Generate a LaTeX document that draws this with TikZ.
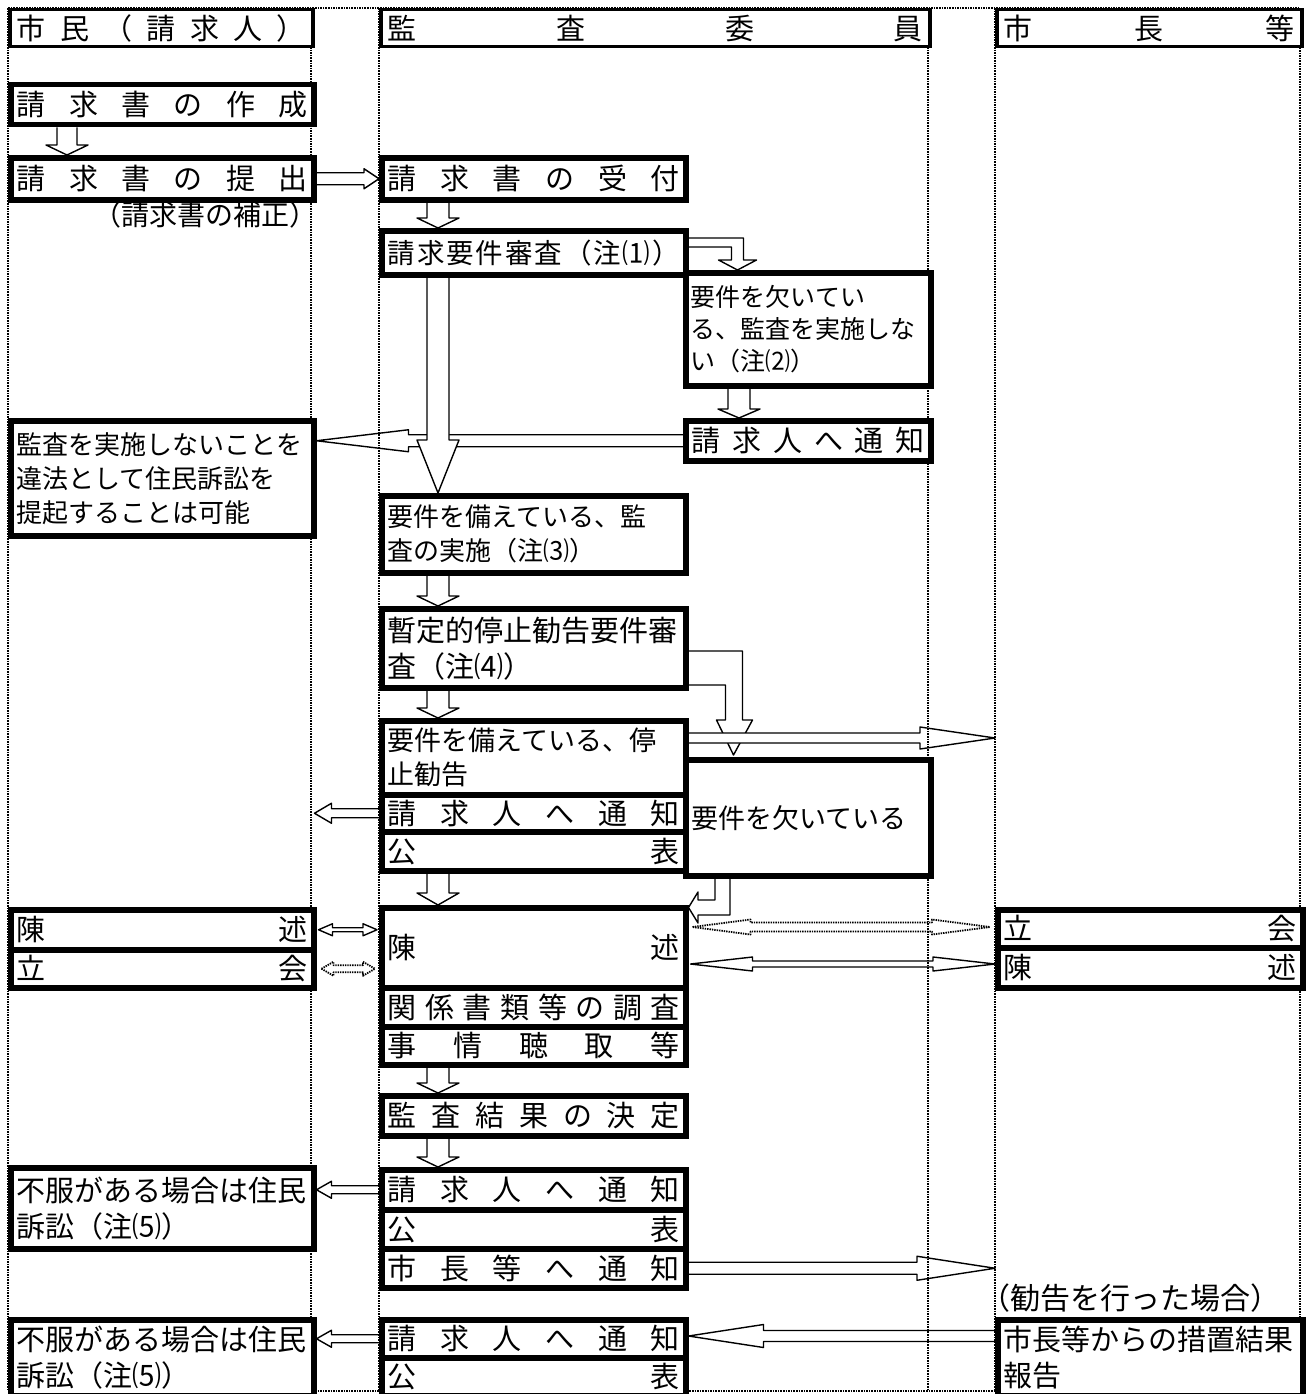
\documentclass[tikz,border=0pt]{standalone}
\usepackage{fontspec}
\setmainfont{Noto Sans CJK JP}
\usetikzlibrary{calc,backgrounds}
\newcommand{\jspread}[3][29]{\hbox to #2pt{\fontsize{#1}{34}\selectfont\jsfirst#3\relax}}
\def\jsfirst#1{\ifx\relax#1\else#1\expandafter\jsnext\fi}
\def\jsnext#1{\ifx\relax#1\else\hfill#1\expandafter\jsnext\fi}
\tikzset{lane/.style={densely dotted, line width=1.6pt}}
\tikzset{lanehead/.style={draw, fill=white, line width=3.5pt, anchor=north west, inner sep=0pt, minimum height=37pt}}
\tikzset{jbox/.style={draw, fill=white, line width=5.5pt, anchor=north west, inner sep=0pt}}
\tikzset{para/.style={align=left, text width=#1}}
\tikzset{widefont/.style={font=\fontsize{29}{36}\selectfont}}
\tikzset{barrow/.style={draw, fill=white, line width=1.4pt, line join=round}}
\tikzset{bdown/.style n args={3}{barrow, to path={let \p1=(\tikztostart), \p2=(\tikztotarget) in
			(\x1-#1pt,\y1) -- (\x1-#1pt,\y2+#3pt) -- (\x1-#2pt,\y2+#3pt) -- (\x1,\y2)
			-- (\x1+#2pt,\y2+#3pt) -- (\x1+#1pt,\y2+#3pt) -- (\x1+#1pt,\y1)}}}
\tikzset{bleft/.style n args={3}{barrow, to path={let \p1=(\tikztostart), \p2=(\tikztotarget) in
			(\x1,\y1+#1pt) -- (\x2+#3pt,\y1+#1pt) -- (\x2+#3pt,\y1+#2pt) -- (\x2,\y1)
			-- (\x2+#3pt,\y1-#2pt) -- (\x2+#3pt,\y1-#1pt) -- (\x1,\y1-#1pt)}}}
\tikzset{bright/.style n args={3}{barrow, to path={let \p1=(\tikztostart), \p2=(\tikztotarget) in
			(\x1,\y1+#1pt) -- (\x2-#3pt,\y1+#1pt) -- (\x2-#3pt,\y1+#2pt) -- (\x2,\y1)
			-- (\x2-#3pt,\y1-#2pt) -- (\x2-#3pt,\y1-#1pt) -- (\x1,\y1-#1pt)}}}
\tikzset{bboth/.style n args={3}{barrow, to path={let \p1=(\tikztostart), \p2=(\tikztotarget) in
			(\x1,\y1) -- (\x1+#3pt,\y1+#2pt) -- (\x1+#3pt,\y1+#1pt) -- (\x2-#3pt,\y1+#1pt) -- (\x2-#3pt,\y1+#2pt) -- (\x2,\y1)
			-- (\x2-#3pt,\y1-#2pt) -- (\x2-#3pt,\y1-#1pt) -- (\x1+#3pt,\y1-#1pt) -- (\x1+#3pt,\y1-#2pt) -- cycle}}}

\begin{document}
\begin{tikzpicture}[x=1pt, y=-1pt, font=\fontsize{26}{34}\selectfont]
	\useasboundingbox (0,0) rectangle (1309,1394);
	
	% lane heads
	\node[lanehead, minimum width=303pt] (hcit) at (8,8) {\jspread{289}{市民（請求人）}};
	\node[lanehead, minimum width=549pt] (hcom) at (379,8) {\jspread{535}{監査委員}};
	\node[lanehead, minimum width=305pt] (hmay) at (995,8) {\jspread{291}{市長等}};
	
	% citizen
	\node[jbox, minimum width=303pt, minimum height=40pt] (make) at (8,82) {\jspread{291}{請求書の作成}};
	\node[jbox, minimum width=303pt, minimum height=42pt] (submit) at (8,155) {\jspread{291}{請求書の提出}};
	\node[anchor=base east, inner sep=0pt, font=\fontsize{28}{34}\selectfont] (fixnote) at (318,225) {（請求書の補正）};
	\node[jbox, minimum width=303pt, minimum height=115pt, para=291pt] (sue) at (8,418) {監査を実施しないことを\\違法として住民訴訟を\\提起することは可能};
	\node[jbox, minimum width=303pt, minimum height=40pt] (statem) at (8,907) {\jspread{291}{陳述}};
	\node[jbox, minimum width=303pt, minimum height=38pt] (attend) at (8,947) {\jspread{291}{立会}};
	\node[jbox, widefont, minimum width=303pt, minimum height=81pt, para=291pt] (dis1) at (8,1165) {不服がある場合は住民\\訴訟（注⑸）};
	\node[jbox, widefont, minimum width=303pt, minimum height=76pt, para=291pt] (dis2) at (8,1317) {不服がある場合は住民\\訴訟（注⑸）};
	
	% committee
	\node[jbox, minimum width=304pt, minimum height=42pt] (recv) at (379,155) {\jspread{292}{請求書の受付}};
	\node[jbox, minimum width=304pt, minimum height=44pt] (chk) at (379,228) {\jspread[27.5]{292}{請求要件審査（注⑴）}};
	\node[jbox, minimum width=245pt, minimum height=113pt, para=235pt, font=\fontsize{25}{32}\selectfont] (lack1) at (683,270) {要件を欠いてい\\る、監査を実施しな\\い（注⑵）};
	\node[jbox, minimum width=245pt, minimum height=40pt] (notify1) at (683,418) {\jspread{233}{請求人へ通知}};
	\node[jbox, minimum width=304pt, minimum height=77pt, para=292pt] (impl) at (379,493) {要件を備えている、監\\査の実施（注⑶）};
	\node[jbox, widefont, minimum width=304pt, minimum height=79pt, para=292pt] (scr) at (379,606) {暫定的停止勧告要件審\\査（注⑷）};
	\node[jbox, minimum width=304pt, minimum height=74pt, para=292pt, font=\fontsize{27}{34}\selectfont] (rec) at (379,718) {要件を備えている、停\\止勧告};
	\node[jbox, minimum width=304pt, minimum height=37pt] (notify2) at (379,792) {\jspread{292}{請求人へ通知}};
	\node[jbox, minimum width=304pt, minimum height=39pt] (pub1) at (379,829) {\jspread{292}{公表}};
	\node[jbox, minimum width=245pt, minimum height=116pt, para=233pt, font=\fontsize{27}{34}\selectfont] (lack2) at (683,757) {要件を欠いている};
	\node[jbox, minimum width=304pt, minimum height=80pt] (state) at (379,905) {\jspread{292}{陳述}};
	\node[jbox, minimum width=304pt, minimum height=39pt] (inv) at (379,985) {\jspread{292}{関係書類等の調査}};
	\node[jbox, minimum width=304pt, minimum height=38pt] (hear) at (379,1024) {\jspread{292}{事情聴取等}};
	\node[jbox, minimum width=304pt, minimum height=40pt] (decide) at (379,1093) {\jspread{292}{監査結果の決定}};
	\node[jbox, minimum width=304pt, minimum height=40pt] (notify3) at (379,1167) {\jspread{292}{請求人へ通知}};
	\node[jbox, minimum width=304pt, minimum height=39pt] (pub2) at (379,1207) {\jspread{292}{公表}};
	\node[jbox, minimum width=304pt, minimum height=39pt] (mnotify) at (379,1246) {\jspread{292}{市長等へ通知}};
	\node[jbox, minimum width=304pt, minimum height=38pt] (notify4) at (379,1317) {\jspread{292}{請求人へ通知}};
	\node[jbox, minimum width=304pt, minimum height=38pt] (pub3) at (379,1355) {\jspread{292}{公表}};
	
	% mayor
	\node[jbox, minimum width=305pt, minimum height=38pt] (attend3) at (995,907) {\jspread{293}{立会}};
	\node[jbox, minimum width=305pt, minimum height=40pt] (stm3) at (995,945) {\jspread{293}{陳述}};
	\node[anchor=base west, inner sep=0pt, font=\fontsize{30}{36}\selectfont] (case) at (980,1309) {（勧告を行った場合）};
	\node[jbox, widefont, minimum width=305pt, minimum height=76pt, para=293pt] (report) at (995,1317) {市長等からの措置結果\\報告};
	
	\begin{scope}[on background layer]
		\draw[bdown={10}{21}{10}] ([xshift=59pt]make.south west) to (submit.north);
		\draw[bright={6}{10}{15}] (submit.east) to (recv.west);
		\draw[bdown={11}{21}{10}] ([xshift=59pt]recv.south west) to (chk.north);
		\draw[barrow] let \p1=(chk.north east), \p2=(lack1.north west) in
			(\x1,\y1-10pt) -- (\x1+55pt,\y1-10pt) -- (\x1+55pt,\y2+10pt) -- (\x1+68pt,\y2+10pt) -- (\x1+49pt,\y2)
			-- (\x1+30pt,\y2+10pt) -- (\x1+43pt,\y2+10pt) -- (\x1+43pt,\y1-19pt) -- (\x1,\y1-19pt);
		\draw[bleft={6}{11}{92}] (notify1.west) to (sue.east);
		\draw[bdown={11}{21}{53}] ([xshift=59pt]chk.south west) to (impl.north);
		\draw[bdown={11}{21}{9}] ([xshift=56pt]lack1.south west) to (notify1.north);
		\draw[bdown={11}{21}{10}] ([xshift=59pt]impl.south west) to (scr.north);
		\draw[bdown={11}{21}{10}] ([xshift=59pt]scr.south west) to (rec.north);
		\draw[barrow] let \p1=(scr.north east), \p2=(lack2.north west) in
			(\x1,\y1-45pt) -- (\x1+54pt,\y1-45pt) -- (\x1+54pt,\y2+37pt) -- (\x1+64pt,\y2+37pt) -- (\x1+45pt,\y2+2pt)
			-- (\x1+28pt,\y2+37pt) -- (\x1+37pt,\y2+37pt) -- (\x1+37pt,\y1-79pt) -- (\x1,\y1-79pt);
		\draw[bright={5}{11}{75}] ([yshift=-20pt]rec.north east) to (hmay.south west);
		\draw[bleft={4.5}{10}{17}] (notify2.west) to (hcit.south east);
		\draw[barrow] let \p1=(lack2.south west), \p2=(state.north east) in
			(\x1+47pt,\y1) -- (\x1+47pt,\y2-10pt) -- (\x1+15pt,\y2-10pt) -- (\x1+15pt,\y2-18pt) -- (\x2,\y2-2.5pt)
			-- (\x1+15pt,\y2+13pt) -- (\x1+15pt,\y2+5pt) -- (\x1+32pt,\y2+5pt) -- (\x1+32pt,\y1);
		\draw[bdown={11}{21}{12}] ([xshift=59pt]pub1.south west) to (state.north);
		\draw[bboth={2}{6}{14}] ([xshift=2pt]statem.east) to ([xshift=-2pt]state.west);
		\draw[bboth={3.5}{7}{12}, densely dotted, line width=1.8pt] ([xshift=5pt]attend.east) to ([xshift=-4pt]state.west);
		\draw[bboth={4.5}{7.5}{58}, densely dotted, line width=1.8pt] ([xshift=4pt,yshift=-22pt]state.north east) to ([xshift=-5pt]attend3.west);
		\draw[bboth={3}{7}{62}] ([xshift=2pt,yshift=-59pt]state.north east) to (stm3.west);
		\draw[bdown={11}{21}{10}] ([xshift=59pt]hear.south west) to (decide.north);
		\draw[bdown={11}{21}{10}] ([xshift=59pt]decide.south west) to (notify3.north);
		\draw[bleft={4}{8.5}{15}] (notify3.west) to (dis1.east);
		\draw[bright={6}{12}{78}] (mnotify.east) to (hmay.south west);
		\draw[bleft={5.5}{11.5}{75}] ([yshift=-19pt]report.north west) to (notify4.east);
		\draw[bleft={4}{8.5}{15}] (notify4.west) to (dis2.east);
		
		% lanes
		\draw[lane] (8,8) rectangle (1300,1391);
		\foreach \lx in {311,379,928,995}
			\draw[lane] (\lx,8) -- (\lx,1391);
	\end{scope}
\end{tikzpicture}
\end{document}
